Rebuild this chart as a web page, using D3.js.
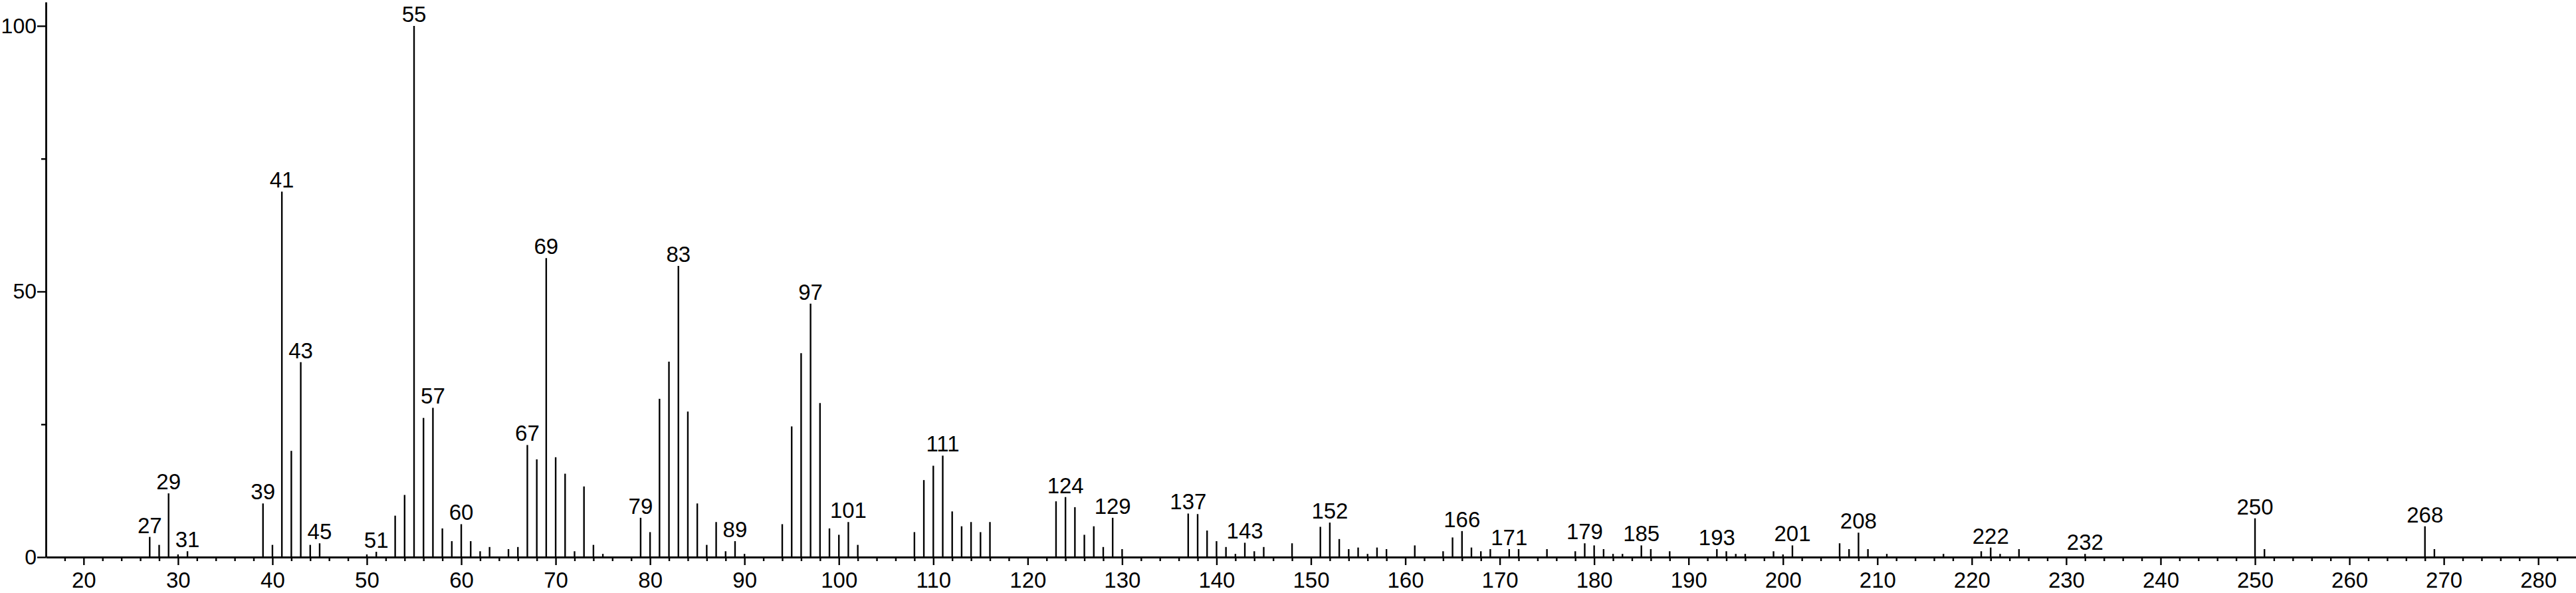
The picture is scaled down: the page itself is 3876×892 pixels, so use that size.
<!DOCTYPE html>
<html>
<head>
<meta charset="utf-8">
<script src="https://cdn.jsdelivr.net/npm/d3@7"></script>
<style>
  html, body { margin: 0; padding: 0; background: #fff; }
  svg { display: block; }
</style>
</head>
<body>
<div id="chart"></div>
<script>
// m/z values of the peaks and their relative intensities (%)
const mz = [
  27, 28, 29, 30, 31, 39, 40, 41, 42, 43, 44, 45, 50, 51, 53, 54, 55, 56, 57, 58,
  59, 60, 61, 62, 63, 65, 66, 67, 68, 69, 70, 71, 72, 73, 74, 75, 79, 80, 81, 82,
  83, 84, 85, 86, 87, 88, 89, 90, 94, 95, 96, 97, 98, 99, 100, 101, 102, 108, 109, 110,
  111, 112, 113, 114, 115, 116, 123, 124, 125, 126, 127, 128, 129, 130, 137, 138, 139, 140, 141, 142,
  143, 144, 145, 148, 151, 152, 153, 154, 155, 156, 157, 158, 161, 164, 165, 166, 167, 168, 169, 171,
  172, 175, 178, 179, 180, 181, 182, 183, 185, 186, 188, 193, 194, 195, 196, 199, 200, 201, 206, 207,
  208, 209, 211, 217, 221, 222, 223, 225, 232, 250, 251, 268, 269
]
const intensity = [
  3.8, 2.3, 12.0, 0.5, 1.1, 10.1, 2.3, 68.8, 20.0, 36.7, 2.3, 2.6, 0.5, 1.0, 7.8, 11.7, 100, 26.2, 28.1, 5.4,
  3.0, 6.2, 3.0, 1.1, 1.9, 1.5, 1.9, 21.1, 18.4, 56.3, 18.8, 15.7, 1.1, 13.3, 2.3, 0.6, 7.4, 4.7, 29.8, 36.8,
  54.8, 27.4, 10.1, 2.3, 6.6, 1.1, 3.0, 0.6, 6.2, 24.6, 38.4, 47.7, 29.0, 5.4, 4.2, 6.6, 2.3, 4.7, 14.5, 17.2,
  19.1, 8.6, 5.8, 6.6, 4.7, 6.6, 10.5, 11.3, 9.4, 4.2, 5.8, 1.9, 7.4, 1.5, 8.2, 8.1, 5.0, 3.0, 1.9, 0.6,
  2.7, 1.1, 1.9, 2.6, 5.7, 6.5, 3.4, 1.5, 1.8, 0.6, 1.8, 1.5, 2.2, 1.1, 3.7, 4.9, 1.8, 1.1, 1.5, 1.5,
  1.5, 1.5, 1.1, 2.6, 2.2, 1.5, 0.6, 0.6, 2.2, 1.5, 1.1, 1.5, 1.1, 0.6, 0.6, 1.1, 0.5, 2.2, 2.6, 1.5,
  4.6, 1.5, 0.6, 0.6, 1.1, 1.8, 0.6, 1.5, 0.6, 7.3, 1.5, 5.8, 1.5
]
// peaks that carry their m/z as a label
const labeledPeaks = [27, 29, 31, 39, 41, 43, 45, 51, 55, 57, 60, 67, 69, 79, 83, 89, 97, 101, 111,
  124, 129, 137, 143, 152, 166, 171, 179, 185, 193, 201, 208, 222, 232, 250, 268]

const xTickLabels = [20, 30, 40, 50, 60, 70, 80, 90, 100, 110, 120, 130, 140, 150, 160, 170, 180,
  190, 200, 210, 220, 230, 240, 250, 260, 270, 280]
const yTickLabels = [0, 50, 100]
const yMinorTicks = [25, 75]

const width = 3876
const height = 892
const font = '"Liberation Sans", Arial, Helvetica, sans-serif'

const peaks = mz.map((m, i) => ({ mz: m, value: intensity[i] }))

const x = d3.scaleLinear().domain([16, 284]).range([69, 3876])
const y = d3.scaleLinear().domain([0, 104.5]).range([838, 3])

const svg = d3
  .select('#chart')
  .append('svg')
  .attr('width', width)
  .attr('height', height)
  .style('background', '#fff')

// peak sticks
svg
  .append('g')
  .selectAll('line')
  .data(peaks)
  .enter()
  .append('line')
  .attr('x1', (d) => x(d.mz))
  .attr('x2', (d) => x(d.mz))
  .attr('y1', y(0))
  .attr('y2', (d) => y(d.value))
  .attr('stroke', '#000')
  .attr('stroke-width', 2.4)

// m/z labels above the main peaks
svg
  .append('g')
  .selectAll('text')
  .data(peaks.filter((d) => labeledPeaks.includes(d.mz)))
  .enter()
  .append('text')
  .attr('x', (d) => x(d.mz))
  .attr('y', (d) => y(d.value) - 6)
  .attr('text-anchor', 'middle')
  .attr('font-family', font)
  .attr('font-size', 33)
  .attr('fill', '#000')
  .text((d) => d.mz)

// x axis: minor ticks every 2, labelled ticks every 10
const xMinor = d3.range(18, 284, 2).filter((v) => v % 10 !== 0)
const gxMinor = svg
  .append('g')
  .attr('transform', `translate(0,${y(0)})`)
  .call(d3.axisBottom(x).tickValues(xMinor).tickSize(6).tickFormat(''))
gxMinor.select('.domain').remove()

const gx = svg
  .append('g')
  .attr('transform', `translate(0,${y(0)})`)
  .call(d3.axisBottom(x).tickValues(xTickLabels).tickSize(12).tickSizeOuter(0).tickPadding(11))

// y axis: minor ticks at 25 / 75, labels at 0, 50, 100
const gyMinor = svg
  .append('g')
  .attr('transform', `translate(${x(16)},0)`)
  .call(d3.axisLeft(y).tickValues(yMinorTicks).tickSize(7).tickFormat(''))
gyMinor.select('.domain').remove()

const gy = svg
  .append('g')
  .attr('transform', `translate(${x(16)},0)`)
  .call(d3.axisLeft(y).tickValues(yTickLabels).tickSize(13).tickSizeOuter(0).tickPadding(1))

svg.selectAll('.tick line').attr('stroke-width', 2.4)
svg.selectAll('.domain').attr('stroke-width', 2.8)
svg
  .selectAll('.tick text')
  .attr('font-family', font)
  .attr('font-size', 33)
  .attr('fill', '#000')
gy.selectAll('.tick text').attr('font-size', 32)
</script>
</body>
</html>
